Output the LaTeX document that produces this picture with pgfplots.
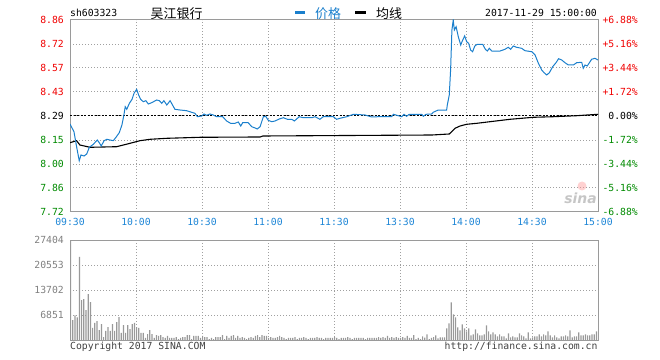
\documentclass[border=0pt]{standalone}
\usepackage{pgfplots}
\pgfplotsset{compat=1.18}
\usepackage{pgfplotstable}
\usepackage{fontspec}
\setmonofont{DejaVu Sans Mono}
\newfontfamily\cjk{Noto Sans CJK SC}
\newfontfamily\dvs{DejaVu Sans}
\definecolor{pblue}{HTML}{1A7FCC}
\definecolor{lblue}{HTML}{1E86D6}
\definecolor{sred}{HTML}{F00000}
\definecolor{sgreen}{HTML}{008A00}
\definecolor{gridc}{HTML}{A0A0A0}
\definecolor{borderc}{HTML}{9A9A9A}
\definecolor{volc}{HTML}{999999}
\newcommand{\mf}{\ttfamily\fontsize{9.8}{10}\selectfont}
\newcommand{\cf}{\cjk\fontsize{13}{13}\selectfont}

\pgfplotstableread{
m p
0 8.2425
1.8 8.1967
3.0 8.1076
4.2 8.0244
5.0 8.0583
6.4 8.0524
7.6 8.0643
8.8 8.1041
10.6 8.1219
12.4 8.1474
13.3 8.1314
14.2 8.1118
15.5 8.1433
16.7 8.1516
18.2 8.1474
19.7 8.1433
20.9 8.1635
22.4 8.1908
23.6 8.2365
24.5 8.2959
25.1 8.3452
25.8 8.3298
27.0 8.3655
28.2 8.3892
29.1 8.4249
30.3 8.4486
31.2 8.4148
32.1 8.3892
33.3 8.3750
34.5 8.3809
35.6 8.3613
37.1 8.3690
39.4 8.3851
40.6 8.3809
41.7 8.3655
42.7 8.3809
44.0 8.3553
45.5 8.3809
47.7 8.3298
50.0 8.3256
53.0 8.3215
55.3 8.3120
56.8 8.3060
57.9 8.2858
59.9 8.2900
60.9 8.3019
62.1 8.2942
63.6 8.3019
65.1 8.2960
66.7 8.2858
69.4 8.2858
71.2 8.2603
73.0 8.2466
75.0 8.2466
76.5 8.2544
77.6 8.2306
78.5 8.2502
81.0 8.2502
82.6 8.2264
84.5 8.2169
85.1 8.2128
86.4 8.2264
87.9 8.2858
89.1 8.2858
90.1 8.2645
91.7 8.2561
93.2 8.2603
95.1 8.2722
97.0 8.2799
98.8 8.2704
100.8 8.2704
102.0 8.2603
104.2 8.2858
106.0 8.2799
109.9 8.2799
111.4 8.2858
113.6 8.2704
115.1 8.2858
119.7 8.2858
121.2 8.2704
122.7 8.2763
125.8 8.2858
128.8 8.3001
134.1 8.2960
137.1 8.2841
140.1 8.2858
146.2 8.2858
147.0 8.3001
149.2 8.2918
150.8 8.2858
151.8 8.3001
153.0 8.2882
154.2 8.3001
159.9 8.3001
160.6 8.2882
161.8 8.3001
164.4 8.3019
165.1 8.3120
167.4 8.3256
171.2 8.3256
171.5 8.3553
172.4 8.4148
173.0 8.5633
173.6 8.8009
174.2 8.8603
174.7 8.8009
175.5 8.8205
176.5 8.7611
177.6 8.7118
178.5 8.7415
179.4 8.7653
180.3 8.7314
181.2 8.7219
182.1 8.6821
183.0 8.6720
184.0 8.7058
185.1 8.7159
187.6 8.7159
188.8 8.6862
189.7 8.6761
190.6 8.6922
191.7 8.6761
195.5 8.6761
197.7 8.6862
199.2 8.6981
200.3 8.6862
201.5 8.7058
203.0 8.6981
205.3 8.6922
206.8 8.6779
209.9 8.6720
211.4 8.6524
212.9 8.6031
214.4 8.5633
215.5 8.5472
216.7 8.5336
217.9 8.5472
219.4 8.5829
220.9 8.6066
222.1 8.6304
223.5 8.6227
225.0 8.6066
226.5 8.5930
228.8 8.5930
230.3 8.6066
232.6 8.6090
233.3 8.5734
234.1 8.5930
235.1 8.5870
237.1 8.6268
238.6 8.6328
240 8.6227
}\pricetable

\pgfplotstableread{
m p
0 8.1314
3.0 8.1433
4.5 8.1177
9.1 8.1041
21.2 8.1076
27.3 8.1278
31.8 8.1433
36.4 8.1516
44.0 8.1575
59.1 8.1635
86.4 8.1653
87.7 8.1712
164.5 8.1771
172.4 8.1831
175.0 8.2169
177.3 8.2306
180.3 8.2407
184.9 8.2466
190.9 8.2561
200.0 8.2704
210.6 8.2823
219.7 8.2858
230.3 8.2918
240 8.3001
}\avgtable

\pgfplotstableread{
k v
0 27404
1 5480
2 6760
3 6200
4 22800
5 10960
6 11230
7 8200
8 12600
9 10400
10 3290
11 4660
12 5200
13 2740
14 4380
15 820
16 2470
17 3560
18 2470
19 4380
20 2470
21 4930
22 6300
23 1920
24 4110
25 1920
26 4110
27 3010
28 4380
29 4660
30 3560
31 3290
32 1920
33 1920
34 550
35 1640
36 2740
37 1640
38 550
39 1370
40 1100
41 1370
42 820
43 550
44 1100
45 550
46 550
47 550
48 820
49 270
50 550
51 820
52 820
53 1370
54 1370
55 270
56 1100
57 1100
58 1100
59 550
60 1100
61 820
62 820
63 270
64 550
65 270
66 820
67 820
68 820
69 1370
70 270
71 1100
72 550
73 1100
74 1370
75 550
76 1100
77 550
78 820
79 550
80 270
81 550
82 820
83 550
84 1100
85 1370
86 820
87 1370
88 1100
89 1100
90 550
91 820
92 550
93 550
94 820
95 1100
96 820
97 550
98 270
99 550
100 550
101 550
102 820
103 270
104 550
105 550
106 820
107 550
108 270
109 550
110 550
111 550
112 820
113 550
114 550
115 270
116 550
117 550
118 550
119 550
120 820
121 550
122 270
123 550
124 550
125 550
126 820
127 550
128 270
129 550
130 550
131 550
132 550
133 550
134 270
135 550
136 550
137 550
138 550
139 550
140 820
141 550
142 820
143 550
144 1100
145 550
146 820
147 550
148 820
149 550
150 550
151 820
152 550
153 1100
154 550
155 550
156 1370
157 270
158 550
159 270
160 1000
161 640
162 1550
163 270
164 550
165 820
166 1280
167 460
168 730
169 730
170 730
171 3200
172 4570
173 10300
174 7030
175 6200
176 3470
177 2650
178 4290
179 3200
180 2370
181 3200
182 1280
183 1550
184 2920
185 1830
186 1280
187 1280
188 1550
189 4020
190 2370
191 1550
192 2100
193 1550
194 1000
195 1550
196 1000
197 1000
198 460
199 1830
200 730
201 1000
202 730
203 730
204 1830
205 1280
206 1000
207 460
208 2100
209 460
210 730
211 1000
212 1000
213 1550
214 1000
215 1550
216 1280
217 2370
218 1280
219 730
220 1280
221 730
222 460
223 1000
224 1000
225 1280
226 1000
227 2650
228 730
229 1000
230 1000
231 2100
232 1280
233 1280
234 1550
235 1280
236 1280
237 1550
238 1550
239 2370
}\voltable

\begin{document}
\begin{tikzpicture}
\path[use as bounding box] (0bp,0bp) rectangle (660bp,360bp);

% header
\node[anchor=base west, inner sep=0pt, font=\mf] at (70bp,343.3bp) {sh603323};
\node[anchor=base west, inner sep=0pt, font=\cf] at (150.5bp,341.8bp) {吴江银行};
\draw[pblue, line width=3.3bp] (295bp,347.3bp) -- (305bp,347.3bp);
\node[anchor=base west, inner sep=0pt, font=\cf, text=pblue] at (315bp,341.8bp) {价格};
\draw[black, line width=3.3bp] (355bp,347.3bp) -- (366bp,347.3bp);
\node[anchor=base west, inner sep=0pt, font=\cf] at (376bp,341.8bp) {均线};
\node[anchor=base east, inner sep=0pt, font=\mf] at (597bp,343.3bp) {2017-11-29 15:00:00};

% main price axis
\begin{axis}[
  at={(70bp,148bp)}, anchor=south west, scale only axis,
  width=528bp, height=192bp,
  xmin=0, xmax=240, ymin=7.7197, ymax=8.8603,
  xtick={0,30,60,90,120,150,180,210,240},
  xticklabels={09:30,10:00,10:30,11:00,11:30,13:30,14:00,14:30,15:00},
  ytick={7.7197,7.8623,8.0048,8.1474,8.29,8.4326,8.5752,8.7177,8.8603},
  yticklabels={\textcolor{sgreen}{7.72},\textcolor{sgreen}{7.86},\textcolor{sgreen}{8.00},\textcolor{sgreen}{8.15},\textcolor{black}{8.29},\textcolor{sred}{8.43},\textcolor{sred}{8.57},\textcolor{sred}{8.72},\textcolor{sred}{8.86}},
  major tick length=0pt,
  axis line style={borderc, line width=1bp},
  xmajorgrids, ymajorgrids,
  major grid style={draw=gridc, line width=1bp, dash pattern=on 1bp off 2bp},
  ticklabel style={font=\mf},
  xticklabel style={text=lblue, anchor=north, inner sep=0pt, yshift=-6.5bp},
  yticklabel style={anchor=east, inner sep=0pt, xshift=-6bp},
]
\addplot[black, line width=1bp, dash pattern=on 2bp off 1.5bp] coordinates {(0,8.29) (240,8.29)};
\addplot[black, line width=1.1bp] table[x=m, y=p] {\avgtable};
\addplot[pblue, line width=1bp] table[x=m, y=p] {\pricetable};
\end{axis}

% right percentage labels
\begin{axis}[
  at={(70bp,148bp)}, anchor=south west, scale only axis,
  width=528bp, height=192bp,
  xmin=0, xmax=240, ymin=7.7197, ymax=8.8603,
  hide x axis, axis y line*=right, y axis line style={draw=none},
  ytick={7.7197,7.8623,8.0048,8.1474,8.29,8.4326,8.5752,8.7177,8.8603},
  yticklabels={\textcolor{sgreen}{-6.88\%},\textcolor{sgreen}{-5.16\%},\textcolor{sgreen}{-3.44\%},\textcolor{sgreen}{-1.72\%},\textcolor{black}{0.00\%},\textcolor{sred}{+1.72\%},\textcolor{sred}{+3.44\%},\textcolor{sred}{+5.16\%},\textcolor{sred}{+6.88\%}},
  major tick length=0pt,
  yticklabel style={font=\mf, anchor=east, inner sep=0pt, xshift=40bp},
]
\addplot[draw=none] coordinates {(0,8.29)};
\end{axis}

% sina watermark
\fill[red!40, opacity=0.45] (582bp,174bp) circle (4.5bp);
\node[anchor=center, inner sep=0pt, text=gray!45, font=\dvs\bfseries\itshape\fontsize{14}{14}\selectfont] at (580.5bp,162bp) {sina};

% volume axis
\begin{axis}[
  at={(70bp,20bp)}, anchor=south west, scale only axis,
  width=528bp, height=100bp,
  xmin=0, xmax=240, ymin=0, ymax=27404,
  scaled y ticks=false,
  xtick={0,30,60,90,120,150,180,210,240}, xticklabels={},
  ytick={6851,13702,20553,27404},
  yticklabels={6851,13702,20553,27404},
  major tick length=0pt,
  axis line style={borderc, line width=1bp},
  xmajorgrids, ymajorgrids,
  major grid style={draw=gridc, line width=1bp, dash pattern=on 1bp off 2bp},
  yticklabel style={font=\mf, text=gray, anchor=east, inner sep=0pt, xshift=-6bp},
]
\addplot[ybar, bar width=1.2bp, bar shift=0.6bp, fill=volc, draw=none] table[x=k, y=v] {\voltable};
\end{axis}

% footer
\node[anchor=north west, inner sep=0pt, font=\mf, text=black!75] at (70bp,17.8bp) {Copyright 2017 SINA.COM};
\node[anchor=north east, inner sep=0pt, font=\mf, text=black!75] at (597.7bp,17.8bp) {http://finance.sina.com.cn};
\end{tikzpicture}
\end{document}
